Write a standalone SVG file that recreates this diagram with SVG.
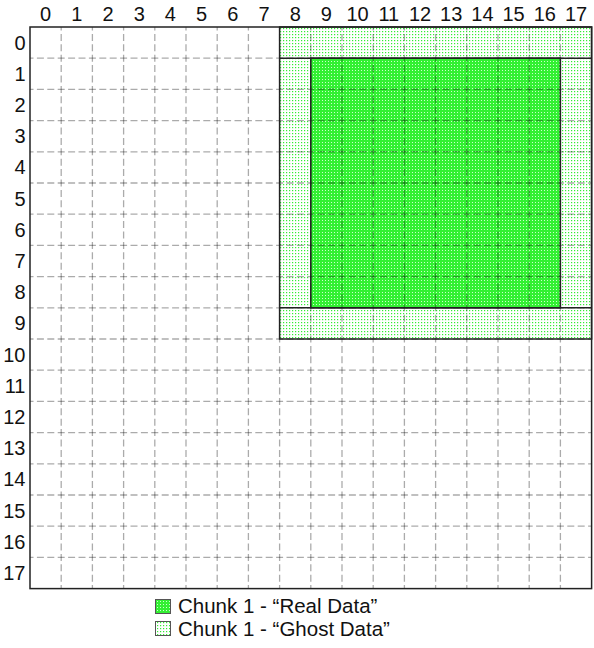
<svg xmlns="http://www.w3.org/2000/svg" width="594" height="648" viewBox="0 0 594 648">
<style>
text{font-family:"Liberation Sans",Arial,sans-serif;fill:#111;}
.lbl{font-size:20px;}
.leg{font-size:20.5px;}
.grid line{stroke:#000;stroke-opacity:0.33;stroke-width:1.3;stroke-dasharray:7 3.4;stroke-dashoffset:3.5;}
.edge{stroke:#222;stroke-width:1.5;fill:none;}
</style>
<defs>
<pattern id="ghost" width="3" height="3" patternUnits="userSpaceOnUse">
<rect width="3" height="3" fill="#fff"/>
<rect x="1" y="1" width="1.2" height="1.2" fill="#33ee33"/>
</pattern>
<pattern id="real" width="3" height="3" patternUnits="userSpaceOnUse">
<rect width="3" height="3" fill="#33f033"/>
<rect x="1" y="1" width="1" height="1" fill="#ccffcc"/>
</pattern>
</defs>
<rect width="594" height="648" fill="#fff"/>
<g id="ghost-region"><rect x="279.6" y="27" width="312" height="312" fill="url(#ghost)"/></g>
<g id="real-region"><rect x="310.8" y="58.2" width="249.6" height="249.6" fill="url(#real)"/></g>
<g class="grid" id="grid">
<line x1="61.2" y1="27" x2="61.2" y2="588.6"/>
<line x1="92.4" y1="27" x2="92.4" y2="588.6"/>
<line x1="123.6" y1="27" x2="123.6" y2="588.6"/>
<line x1="154.8" y1="27" x2="154.8" y2="588.6"/>
<line x1="186" y1="27" x2="186" y2="588.6"/>
<line x1="217.2" y1="27" x2="217.2" y2="588.6"/>
<line x1="248.4" y1="27" x2="248.4" y2="588.6"/>
<line x1="279.6" y1="27" x2="279.6" y2="588.6"/>
<line x1="310.8" y1="27" x2="310.8" y2="588.6"/>
<line x1="342" y1="27" x2="342" y2="588.6"/>
<line x1="373.2" y1="27" x2="373.2" y2="588.6"/>
<line x1="404.4" y1="27" x2="404.4" y2="588.6"/>
<line x1="435.6" y1="27" x2="435.6" y2="588.6"/>
<line x1="466.8" y1="27" x2="466.8" y2="588.6"/>
<line x1="498" y1="27" x2="498" y2="588.6"/>
<line x1="529.2" y1="27" x2="529.2" y2="588.6"/>
<line x1="560.4" y1="27" x2="560.4" y2="588.6"/>
<line x1="30" y1="58.2" x2="591.6" y2="58.2"/>
<line x1="30" y1="89.4" x2="591.6" y2="89.4"/>
<line x1="30" y1="120.6" x2="591.6" y2="120.6"/>
<line x1="30" y1="151.8" x2="591.6" y2="151.8"/>
<line x1="30" y1="183" x2="591.6" y2="183"/>
<line x1="30" y1="214.2" x2="591.6" y2="214.2"/>
<line x1="30" y1="245.4" x2="591.6" y2="245.4"/>
<line x1="30" y1="276.6" x2="591.6" y2="276.6"/>
<line x1="30" y1="307.8" x2="591.6" y2="307.8"/>
<line x1="30" y1="339" x2="591.6" y2="339"/>
<line x1="30" y1="370.2" x2="591.6" y2="370.2"/>
<line x1="30" y1="401.4" x2="591.6" y2="401.4"/>
<line x1="30" y1="432.6" x2="591.6" y2="432.6"/>
<line x1="30" y1="463.8" x2="591.6" y2="463.8"/>
<line x1="30" y1="495" x2="591.6" y2="495"/>
<line x1="30" y1="526.2" x2="591.6" y2="526.2"/>
<line x1="30" y1="557.4" x2="591.6" y2="557.4"/>
</g>
<g id="edges">
<rect class="edge" x="279.6" y="27" width="312" height="312"/>
<rect class="edge" x="310.8" y="58.2" width="249.6" height="249.6"/>
<line class="edge" x1="279.6" y1="58.2" x2="591.6" y2="58.2"/>
<line class="edge" x1="279.6" y1="307.8" x2="591.6" y2="307.8"/>
<rect class="edge" x="30" y="27" width="561.6" height="561.6"/>
</g>
<g id="col-labels" text-anchor="middle">
<text class="lbl" x="45.6" y="21">0</text>
<text class="lbl" x="76.8" y="21">1</text>
<text class="lbl" x="108" y="21">2</text>
<text class="lbl" x="139.2" y="21">3</text>
<text class="lbl" x="170.4" y="21">4</text>
<text class="lbl" x="201.6" y="21">5</text>
<text class="lbl" x="232.8" y="21">6</text>
<text class="lbl" x="264" y="21">7</text>
<text class="lbl" x="295.2" y="21">8</text>
<text class="lbl" x="326.4" y="21">9</text>
<text class="lbl" x="357.6" y="21">10</text>
<text class="lbl" x="388.8" y="21">11</text>
<text class="lbl" x="420" y="21">12</text>
<text class="lbl" x="451.2" y="21">13</text>
<text class="lbl" x="482.4" y="21">14</text>
<text class="lbl" x="513.6" y="21">15</text>
<text class="lbl" x="544.8" y="21">16</text>
<text class="lbl" x="576" y="21">17</text>
</g>
<g id="row-labels" text-anchor="end">
<text class="lbl" x="25.5" y="49.5">0</text>
<text class="lbl" x="25.5" y="80.7">1</text>
<text class="lbl" x="25.5" y="111.9">2</text>
<text class="lbl" x="25.5" y="143.1">3</text>
<text class="lbl" x="25.5" y="174.3">4</text>
<text class="lbl" x="25.5" y="205.5">5</text>
<text class="lbl" x="25.5" y="236.7">6</text>
<text class="lbl" x="25.5" y="267.9">7</text>
<text class="lbl" x="25.5" y="299.1">8</text>
<text class="lbl" x="25.5" y="330.3">9</text>
<text class="lbl" x="25.5" y="361.5">10</text>
<text class="lbl" x="25.5" y="392.7">11</text>
<text class="lbl" x="25.5" y="423.9">12</text>
<text class="lbl" x="25.5" y="455.1">13</text>
<text class="lbl" x="25.5" y="486.3">14</text>
<text class="lbl" x="25.5" y="517.5">15</text>
<text class="lbl" x="25.5" y="548.7">16</text>
<text class="lbl" x="25.5" y="579.9">17</text>
</g>
<g id="legend-real">
<rect x="155.5" y="599.5" width="15" height="14" fill="url(#real)" stroke="#555" stroke-width="1"/>
<text class="leg" x="178" y="613">Chunk 1 - “Real Data”</text>
</g>
<g id="legend-ghost">
<rect x="155.5" y="621.5" width="15" height="14" fill="url(#ghost)" stroke="#555" stroke-width="1"/>
<text class="leg" x="178" y="636">Chunk 1 - “Ghost Data”</text>
</g>
</svg>
